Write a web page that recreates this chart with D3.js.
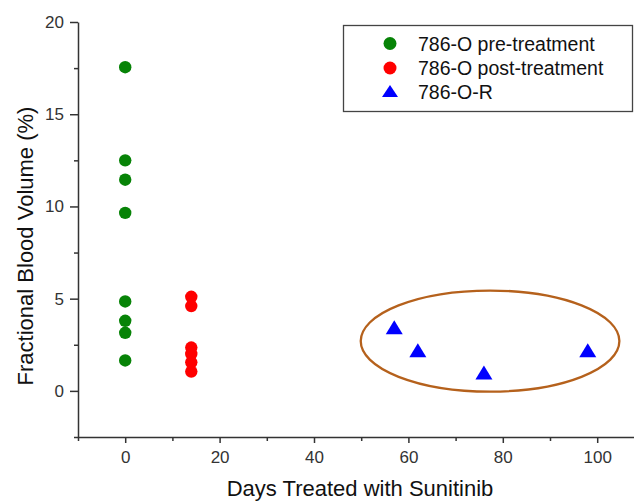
<!DOCTYPE html>
<html lang="en">
<head>
<meta charset="utf-8">
<title>Fractional Blood Volume</title>
<script src="https://d3js.org/d3.v7.min.js"></script>
<style>
  body { margin: 0; background: #fff; }
  text { font-family: "Liberation Sans", Arial, sans-serif; }
</style>
</head>
<body>
<div id="chart"></div>
<script>
// data
var preDays = [0, 0, 0, 0, 0, 0, 0, 0];
var preFBV = [17.55, 12.5, 11.45, 9.65, 4.85, 3.8, 3.15, 1.65];
var postDays = [14, 14, 14, 14, 14, 14];
var postFBV = [5.1, 4.6, 2.35, 2.0, 1.55, 1.05];
var resDays = [57, 62, 76, 98];
var resFBV = [3.45, 2.2, 1.0, 2.2];
var seriesNames = ["786-O pre-treatment", "786-O post-treatment", "786-O-R"];
var xTicks = [0, 20, 40, 60, 80, 100];
var xMinor = [-10, 10, 30, 50, 70, 90, 110];
var yTicks = [0, 5, 10, 15, 20];
var yMinor = [-2.5, 2.5, 7.5, 12.5, 17.5];
// ellipse around the 786-O-R group: centre and radii in data units
var ringCenter = [77.3, 2.7];
var ringRadius = [27.4, 2.74];

var W = 634, H = 502;
var svg = d3.select("#chart").append("svg")
    .attr("width", W).attr("height", H);

var x = d3.scaleLinear().domain([-10, 110]).range([78, 78 + 120 * 4.72]);
var y = d3.scaleLinear().domain([-2.5, 20]).range([437, 22]);

var axisColor = "#333";

// y axis
svg.append("g").attr("transform", "translate(" + x(-10) + ",0)")
    .call(d3.axisLeft(y).tickValues(yTicks).tickSize(8).tickSizeOuter(0).tickPadding(6));
svg.append("g").attr("transform", "translate(" + x(-10) + ",0)")
    .call(d3.axisLeft(y).tickValues(yMinor).tickSize(4).tickFormat("").tickSizeOuter(0))
    .select(".domain").remove();

// x axis
svg.append("g").attr("transform", "translate(0," + y(-2.5) + ")")
    .call(d3.axisBottom(x).tickValues(xTicks).tickSize(6).tickSizeOuter(0).tickPadding(8));
svg.append("g").attr("transform", "translate(0," + y(-2.5) + ")")
    .call(d3.axisBottom(x).tickValues(xMinor).tickSize(4).tickFormat("").tickSizeOuter(0))
    .select(".domain").remove();

svg.selectAll(".domain, .tick line")
    .attr("stroke", axisColor).attr("stroke-width", 1.5);
svg.selectAll(".tick text")
    .attr("fill", "#333").style("font-size", "17px")
    .style("font-family", "'Liberation Sans', Arial, sans-serif");

// axis titles
svg.append("text")
    .attr("x", 360).attr("y", 496)
    .attr("text-anchor", "middle")
    .style("font-size", "22px").attr("fill", "#111")
    .text("Days Treated with Sunitinib");

svg.append("text")
    .attr("transform", "translate(33,246) rotate(-90)")
    .attr("text-anchor", "middle")
    .style("font-size", "22px").attr("fill", "#111")
    .text("Fractional Blood Volume (%)");

// ellipse
svg.append("ellipse")
    .attr("cx", x(ringCenter[0])).attr("cy", y(ringCenter[1]))
    .attr("rx", x(ringCenter[0] + ringRadius[0]) - x(ringCenter[0]))
    .attr("ry", y(ringCenter[1]) - y(ringCenter[1] + ringRadius[1]))
    .attr("fill", "none").attr("stroke", "#b5611c").attr("stroke-width", 2.3);

function triPath(w, h) {
    return "M0," + (-h / 2) + "L" + (w / 2) + "," + (h / 2) + "L" + (-w / 2) + "," + (h / 2) + "Z";
}

// points
svg.append("g").selectAll("circle")
    .data(d3.zip(preDays, preFBV)).join("circle")
    .attr("cx", function(d) { return x(d[0]); })
    .attr("cy", function(d) { return y(d[1]); })
    .attr("r", 6.2).attr("fill", "#078307");

svg.append("g").selectAll("circle")
    .data(d3.zip(postDays, postFBV)).join("circle")
    .attr("cx", function(d) { return x(d[0]); })
    .attr("cy", function(d) { return y(d[1]); })
    .attr("r", 6.2).attr("fill", "#ff0000");

svg.append("g").selectAll("path")
    .data(d3.zip(resDays, resFBV)).join("path")
    .attr("transform", function(d) { return "translate(" + x(d[0]) + "," + y(d[1]) + ")"; })
    .attr("d", triPath(17, 14)).attr("fill", "#0000ff");

// legend
var lg = svg.append("g");
lg.append("rect")
    .attr("x", 343.5).attr("y", 25.5).attr("width", 289).attr("height", 86)
    .attr("fill", "#fff").attr("stroke", "#444").attr("stroke-width", 1.3);
var legendColors = ["#078307", "#ff0000", "#0000ff"];
var rowY = [43.5, 68, 92];
seriesNames.forEach(function(name, i) {
    if (i < 2) {
        lg.append("circle").attr("cx", 390).attr("cy", rowY[i]).attr("r", 6.5)
            .attr("fill", legendColors[i]);
    } else {
        lg.append("path").attr("transform", "translate(390," + (rowY[i] - 1) + ")")
            .attr("d", triPath(16, 12)).attr("fill", legendColors[i]);
    }
    lg.append("text").attr("x", 418).attr("y", rowY[i] + 7)
        .style("font-size", "19.5px").attr("fill", "#111")
        .text(name);
});
</script>
</body>
</html>
